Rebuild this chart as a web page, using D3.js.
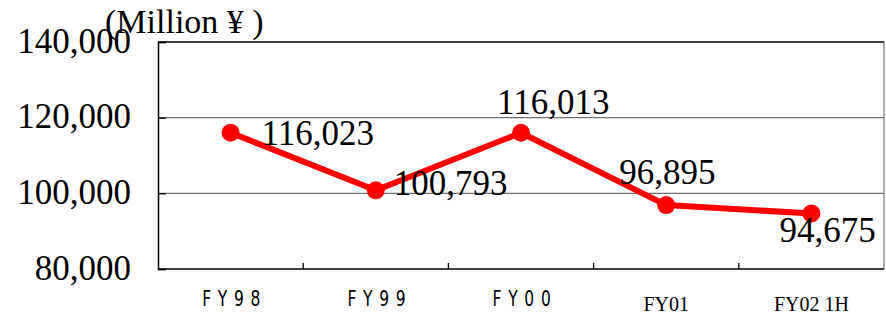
<!DOCTYPE html>
<html lang="en">
<head>
<meta charset="UTF-8">
<title>Million Yen by FY</title>
<style>
  body { margin: 0; background: #fff; }
  svg { display: block; }
</style>
</head>
<body>
<script src="https://d3js.org/d3.v7.min.js"></script>
<div id="chart"></div>
<script>
  // data
  const categories = ["FY98", "FY99", "FY00", "FY01", "FY02 1H"];
  const values = [116023, 100793, 116013, 96895, 94675];
  const yTicks = [80000, 100000, 120000, 140000];
  const unitLabel = "(Million ¥ )";

  const W = 886, H = 319;
  const plot = {left: 158, right: 884, top: 42, bottom: 269};

  const svg = d3.select("#chart").append("svg")
    .attr("width", W)
    .attr("height", H);

  const x = d3.scaleBand()
    .domain(categories)
    .range([plot.left, plot.right]);

  const y = d3.scaleLinear()
    .domain([80000, 140000])
    .range([plot.bottom, plot.top]);

  const serif = "'Liberation Serif', 'Times New Roman', serif";

  // gridlines
  svg.append("g")
    .selectAll("line")
    .data(yTicks.filter(d => d > 80000 && d < 140000))
    .join("line")
      .attr("x1", plot.left).attr("x2", plot.right)
      .attr("y1", d => y(d)).attr("y2", d => y(d))
      .attr("stroke", "#707070")
      .attr("stroke-width", 1.3);

  // frame
  svg.append("line")
    .attr("x1", plot.right).attr("x2", plot.right)
    .attr("y1", plot.top).attr("y2", plot.bottom)
    .attr("stroke", "#808080").attr("stroke-width", 1.3);
  svg.append("line")
    .attr("x1", plot.left).attr("x2", plot.right)
    .attr("y1", plot.top).attr("y2", plot.top)
    .attr("stroke", "#000").attr("stroke-width", 1.3);

  // y axis
  const yAxis = svg.append("g")
    .attr("transform", `translate(${plot.left},0)`)
    .call(d3.axisLeft(y).tickValues(yTicks).tickSize(-8).tickPadding(27)
      .tickFormat(d3.format(",")));
  yAxis.select(".domain").attr("stroke", "#000").attr("stroke-width", 1.5);
  yAxis.selectAll(".tick line").attr("stroke", "#000").attr("stroke-width", 1.3);
  yAxis.selectAll(".tick text")
    .attr("dy", "10px")
    .style("font-family", serif)
    .style("font-size", "35px")
    .attr("fill", "#000");

  // x axis, ticks between the categories pointing up
  const bounds = categories.slice(1).map(c => x(c));
  svg.append("line")
    .attr("x1", plot.left).attr("x2", plot.right)
    .attr("y1", plot.bottom).attr("y2", plot.bottom)
    .attr("stroke", "#000").attr("stroke-width", 1.5);
  svg.append("g")
    .selectAll("line")
    .data(bounds)
    .join("line")
      .attr("x1", d => d).attr("x2", d => d)
      .attr("y1", plot.bottom).attr("y2", plot.bottom - 6)
      .attr("stroke", "#000").attr("stroke-width", 1.3);

  // category labels: first three in a narrow spaced sans, the rest in serif
  const xl = svg.append("g")
    .selectAll("text")
    .data(categories)
    .join("text")
      .attr("text-anchor", "middle")
      .text(d => d);
  xl.filter((d, i) => i < 3)
    .attr("transform", d => `translate(${x(d) + x.bandwidth() / 2 + 4},306) scale(0.74,1)`)
    .style("font-family", "'DejaVu Sans', sans-serif")
    .style("font-size", "21px")
    .style("letter-spacing", "9px");
  xl.filter((d, i) => i >= 3)
    .attr("x", d => x(d) + x.bandwidth() / 2)
    .attr("y", 311)
    .style("font-family", serif)
    .style("font-size", "20px");

  // line
  const cx = (d, i) => x(categories[i]) + x.bandwidth() / 2;
  svg.append("path")
    .datum(values)
    .attr("fill", "none")
    .attr("stroke", "#ff0000")
    .attr("stroke-width", 6)
    .attr("stroke-linejoin", "round")
    .attr("d", d3.line().x(cx).y(d => y(d)));

  svg.append("g")
    .selectAll("circle")
    .data(values)
    .join("circle")
      .attr("cx", cx)
      .attr("cy", d => y(d))
      .attr("r", 9)
      .attr("fill", "#ff0000");

  // value labels (offset from each marker)
  const labelOffsets = [[31, 12], [18, 5], [-24, -19], [-47, -21], [-32, 29]];
  svg.append("g")
    .selectAll("text")
    .data(values)
    .join("text")
      .attr("x", (d, i) => cx(d, i) + labelOffsets[i][0])
      .attr("y", (d, i) => y(d) + labelOffsets[i][1])
      .style("font-family", serif)
      .style("font-size", "35px")
      .text(d => d3.format(",")(d));

  // unit label
  svg.append("text")
    .attr("x", 105)
    .attr("y", 33)
    .style("font-family", serif)
    .style("font-size", "34px")
    .text(unitLabel);
</script>
</body>
</html>
